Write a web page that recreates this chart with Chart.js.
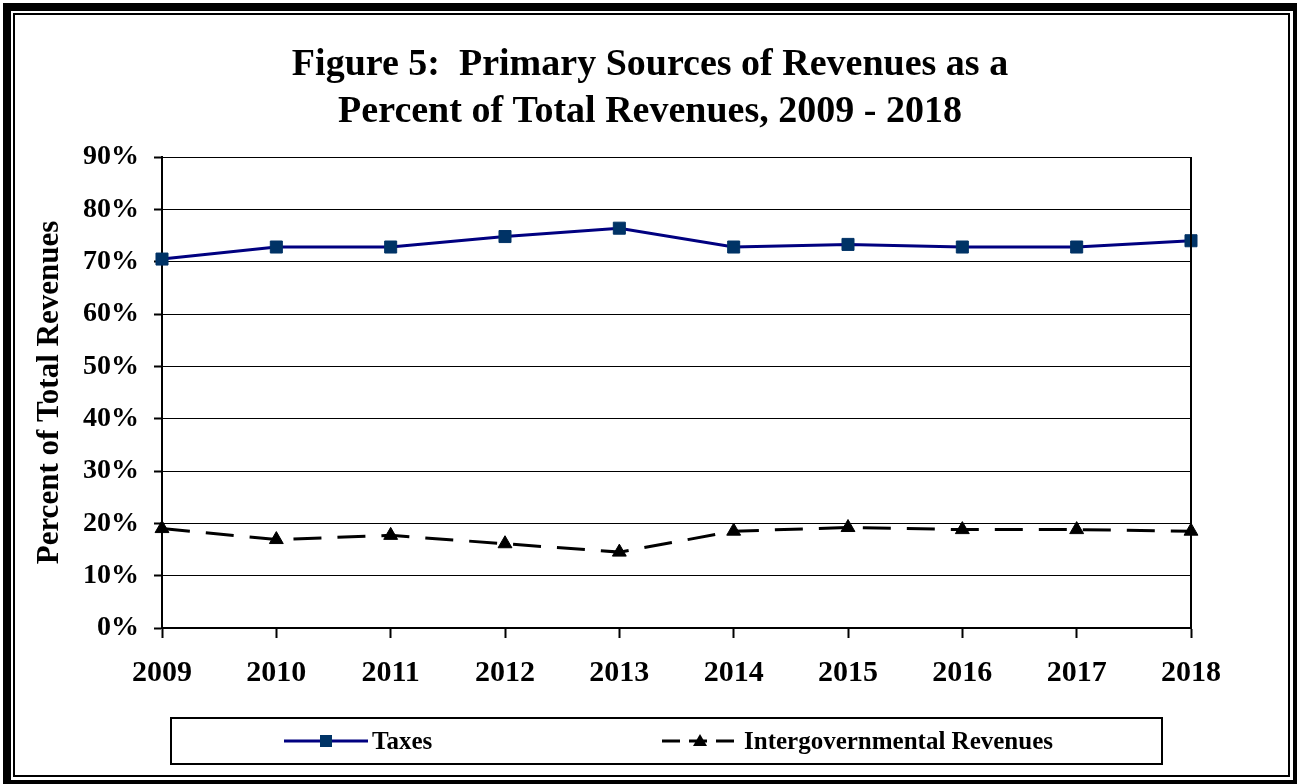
<!DOCTYPE html>
<html>
<head>
<meta charset="utf-8">
<script src="https://cdn.jsdelivr.net/npm/chart.js@4/dist/chart.umd.min.js"></script>
<style>
  html, body { margin: 0; padding: 0; background: #fff; }
  body { width: 1297px; height: 784px; position: relative; overflow: hidden; font-family: "Liberation Serif", "Times New Roman", serif; }
  #frame-outer { position: absolute; left: 3px; top: 3px; width: 1282px; height: 769px; border-style: solid; border-color: #000; border-width: 8px 4px 4px 8px; }
  #frame-inner { position: absolute; left: 13px; top: 13px; width: 1273px; height: 760px; border: 2px solid #000; }
  #chart-wrap { position: absolute; left: 3px; top: 0; width: 1294px; height: 718px; }
  #legend { position: absolute; left: 170px; top: 717px; width: 989px; height: 44px; border: 2px solid #000; font-weight: bold; font-size: 25px; }
  .item { position: absolute; top: 0; height: 44px; display: flex; align-items: center; }
  .item svg { margin-right: 4px; }
</style>
</head>
<body>
<div id="frame-outer"></div>
<div id="frame-inner"></div>
<div id="chart-wrap"><canvas id="chart" width="1294" height="718"></canvas></div>
<div id="legend"></div>
<script>
(function() {
  'use strict';
  // 年
  const years = ['2009', '2010', '2011', '2012', '2013', '2014', '2015', '2016', '2017', '2018'];
  // 税収 (%)
  const taxes = [70.5, 72.8, 72.8, 74.8, 76.4, 72.8, 73.3, 72.8, 72.8, 74.0];
  // 政府間収入 (%)
  const intergovernmental = [19.0, 16.9, 17.7, 16.1, 14.5, 18.5, 19.2, 18.8, 18.8, 18.5];
  // 系列名
  const seriesNames = ['Taxes', 'Intergovernmental Revenues'];
  // タイトル
  const titleLines = ['Figure 5:  Primary Sources of Revenues as a', 'Percent of Total Revenues, 2009 - 2018'];
  const yAxisTitle = 'Percent of Total Revenues';

  const serif = '"Liberation Serif", "Times New Roman", serif';

  // プロット枠の右辺
  const frameBorder = {
    id: 'frameBorder',
    afterDatasetsDraw(chart) {
      const a = chart.chartArea;
      const ctx = chart.ctx;
      ctx.save();
      ctx.strokeStyle = '#000';
      ctx.lineWidth = 2;
      ctx.beginPath();
      ctx.moveTo(a.right, a.top);
      ctx.lineTo(a.right, a.bottom);
      ctx.stroke();
      ctx.restore();
    }
  };

  new Chart(document.getElementById('chart').getContext('2d'), {
    type: 'line',
    data: {
      labels: years,
      datasets: [{
        label: seriesNames[0],
        data: taxes,
        borderColor: '#000080',
        borderWidth: 3,
        pointStyle: 'rect',
        pointRadius: 8.5,
        pointBackgroundColor: '#003366',
        pointBorderColor: '#003366',
        pointBorderWidth: 1,
        tension: 0,
      }, {
        label: seriesNames[1],
        data: intergovernmental,
        borderColor: '#000',
        borderWidth: 3,
        borderDash: [28, 16],
        pointStyle: 'triangle',
        pointRadius: 8,
        pointBackgroundColor: '#000',
        pointBorderColor: '#000',
        pointBorderWidth: 1,
        tension: 0,
      }],
    },
    options: {
      responsive: false,
      animation: false,
      layout: { padding: { left: 0, right: 0, top: 0, bottom: 10 } },
      plugins: {
        legend: { display: false },
        tooltip: { enabled: false },
        title: {
          display: true,
          text: titleLines,
          color: '#000',
          font: { family: serif, size: 38, weight: 'bold', lineHeight: 1.237 },
          padding: { top: 42, bottom: 21 },
        },
      },
      scales: {
        x: {
          offset: false,
          afterFit(scale) { scale.paddingRight = 106; },
          grid: { drawOnChartArea: false, drawTicks: true, tickLength: 10, tickWidth: 2, tickColor: '#000' },
          border: { color: '#000', width: 2 },
          ticks: { color: '#000', font: { family: serif, size: 30, weight: 'bold' }, padding: 17, maxRotation: 0 },
        },
        y: {
          min: 0,
          max: 90,
          afterFit(scale) { scale.width = 159; },
          grid: { color: '#000', lineWidth: 1, tickLength: 8, tickWidth: 2, tickColor: '#000' },
          border: { color: '#000', width: 2 },
          ticks: {
            stepSize: 10,
            color: '#000',
            padding: 15,
            font: { family: serif, size: 28, weight: 'bold' },
            callback: function(v) { return v + '%'; },
          },
          title: {
            display: true,
            text: yAxisTitle,
            color: '#000',
            font: { family: serif, size: 31, weight: 'bold' },
            padding: { top: 28, bottom: 0 },
          },
        },
      },
    },
    plugins: [frameBorder],
  });

  // 凡例
  const legendElem = document.getElementById('legend');
  const legendItems = [
    { left: 112, text: seriesNames[0], svg:
      '<svg width="84" height="20"><line x1="0" y1="10" x2="84" y2="10" stroke="#000080" stroke-width="3"/>' +
      '<rect x="36" y="4" width="12" height="12" fill="#003366"/></svg>' },
    { left: 490, text: seriesNames[1], svg:
      '<svg width="78" height="20"><line x1="0" y1="10" x2="74" y2="10" stroke="#000" stroke-width="3" stroke-dasharray="18,9"/>' +
      '<polygon points="38,3 45,15 31,15" fill="#000"/></svg>' },
  ];
  legendItems.forEach(function(item) {
    const div = document.createElement('div');
    div.className = 'item';
    div.style.left = item.left + 'px';
    div.innerHTML = item.svg + '<span>' + item.text + '</span>';
    legendElem.appendChild(div);
  });
})();
</script>
</body>
</html>
